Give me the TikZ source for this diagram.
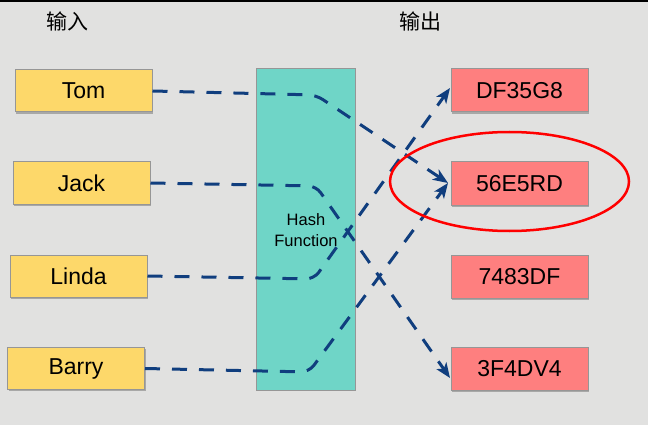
\documentclass[tikz,border=0pt]{standalone}
\usepackage{fontspec}
\setmainfont{Liberation Sans}
\newfontfamily\cjk{Noto Sans CJK SC}
\usetikzlibrary{arrows.meta,shadows}
\definecolor{bg}{RGB}{225,225,224}
\definecolor{inyel}{RGB}{253,216,106}
\definecolor{outred}{RGB}{254,127,127}
\definecolor{hashteal}{RGB}{111,213,199}
\definecolor{connblue}{RGB}{16,62,126}
\definecolor{boxedge}{RGB}{150,150,150}
\tikzset{
  boxbase/.style={draw=boxedge, line width=1pt, inner sep=0pt,
    drop shadow={shadow xshift=1.2pt, shadow yshift=-1.8pt, fill=black, opacity=0.25},
    font=\fontsize{23}{27}\selectfont},
  inbox/.style={boxbase, fill=inyel, minimum width=137pt, minimum height=42pt},
  outbox/.style={boxbase, fill=outred, minimum width=137pt, minimum height=43pt},
  hashbox/.style={draw=boxedge, line width=1pt, fill=hashteal, minimum width=99pt, minimum height=321pt, inner sep=0pt},
  conn/.style={draw=connblue, line width=3pt, dash pattern=on 15pt off 12pt, rounded corners=8pt,
    -{Stealth[length=15pt, width=12pt, inset=4pt]}},
  title/.style={font=\cjk\fontsize{21}{24}\selectfont, inner sep=0pt}
}
\begin{document}
\begin{tikzpicture}[x=1pt, y=-1pt]
\useasboundingbox (0,0) rectangle (648,425);
\fill[bg] (0,0) rectangle (648,425);
\fill[black] (0,0) rectangle (648,1.8);
\node[title] (tin) at (67,21) {输入};
\node[title] (tout) at (420,21) {输出};
\node[hashbox] (hash) at (305.5,229.5) {};
\node[align=center, font=\fontsize{16.5}{21}\selectfont, inner sep=0pt] (hlabel) at (306,230) {Hash\\Function};
\node[inbox] (tom) at (83.5,91) {Tom};
\node[inbox] (jack) at (81.5,183) {Jack};
\node[inbox] (linda) at (78.5,276) {Linda};
\node[inbox] (barry) at (76,368.5) {Barry};
\node[outbox] (o1) at (519.5,90.5) {DF35G8};
\node[outbox] (o2) at (519.5,183.5) {56E5RD};
\node[outbox] (o3) at (519.5,276.5) {7483DF};
\node[outbox] (o4) at (519.5,369) {3F4DV4};
\coordinate (ct) at (316,95);
\coordinate (cj) at (316,186);
\coordinate (cl) at (314,279);
\coordinate (cb) at (309,372);
\coordinate (e1) at (450,88);
\coordinate (e2) at (448,183);
\coordinate (e4) at (450,378);
\draw[conn] (tom.east) -- (ct) -- (e2);
\draw[conn] (jack.east) -- (cj) -- (e4);
\draw[conn] (linda.east) -- (cl) -- (e1);
\draw[conn] (barry.east) -- (cb) -- (e2);
\draw[red, line width=2.5pt] (509.5,181.5) ellipse [x radius=119.5, y radius=49.5];
\end{tikzpicture}
\end{document}
